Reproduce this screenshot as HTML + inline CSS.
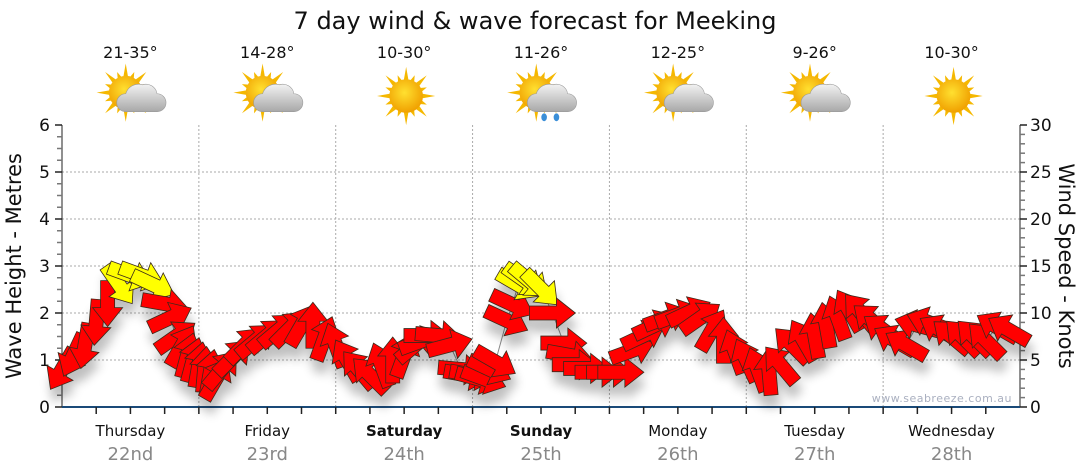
<!DOCTYPE html>
<html><head><meta charset="utf-8"><style>
html,body{margin:0;padding:0;background:#fff;}
svg{display:block;font-family:"DejaVu Sans","Liberation Sans",sans-serif;}
</style></head><body>
<svg id="chart" width="1080" height="475" viewBox="0 0 1080 475" xmlns="http://www.w3.org/2000/svg">
<defs>
<filter id="sh" x="-50%" y="-50%" width="200%" height="250%"><feGaussianBlur in="SourceAlpha" stdDeviation="5"/><feOffset dx="2" dy="12"/><feComponentTransfer><feFuncA type="linear" slope="0.25"/></feComponentTransfer><feMerge><feMergeNode/><feMergeNode in="SourceGraphic"/></feMerge></filter>
<radialGradient id="sunG" cx="45%" cy="40%" r="60%"><stop offset="0" stop-color="#ffe030"/><stop offset="1" stop-color="#f0a000"/></radialGradient>
<linearGradient id="cloudG" x1="0" y1="0" x2="0" y2="1"><stop offset="0" stop-color="#f2f2f2"/><stop offset="1" stop-color="#a8a8a8"/></linearGradient>
</defs>
<text x="535" y="29" text-anchor="middle" font-size="24" fill="#111">7 day wind &amp; wave forecast for Meeking</text>
<g id="grid"></g>
<g id="axes"></g>
<g id="header"></g>
<g id="series"></g>
<text x="1012" y="402" text-anchor="end" font-size="11" fill="#aab0c0" letter-spacing="0.5">www.seabreeze.com.au</text>
<text transform="translate(21,266) rotate(-90)" text-anchor="middle" font-size="21" fill="#111">Wave Height - Metres</text>
<text transform="translate(1059,266) rotate(90)" text-anchor="middle" font-size="21" fill="#111">Wind Speed - Knots</text>
</svg>
<script>
const days = ["Thursday","Friday","Saturday","Sunday","Monday","Tuesday","Wednesday"];
const dates = ["22nd","23rd","24th","25th","26th","27th","28th"];
const temps = ["21-35°","14-28°","10-30°","11-26°","12-25°","9-26°","10-30°"];
const icons = ["partly","partly","sun","rain","partly","partly","sun"];
const boldDays = [false,false,true,true,false,false,false];
const waveTicks = [0,1,2,3,4,5,6];
const windTicks = [0,5,10,15,20,25,30];
const hours = [0,2,4,6,8,10,12,14,16,18,19,20,21,22,23,24,25,26,27,28,30,32,34,36,38,40,42,44,46,48,50,52,54,56,58,60,62,63,64,66,68,70,71,72,73,74,75,76,78,79,80,81,82,84,86,88,89,90,92,94,96,98,100,102,104,106,108,110,112,114,116,118,120,122,124,126,128,130,132,134,136,138,140,142,144,146,148,150,152,154,156,158,160,162,164,166];
const speeds = [4,5.5,6.5,9,11,13,14,14,13,11,9.5,7.5,6.5,5.5,5,4.5,4,3.7,3,4,5.3,6.6,7.1,7.6,8.2,8.4,8.7,8.7,7.3,6.6,5,4,3.4,4.5,5,5.5,6.6,7,7.6,7.6,6.6,4,3.4,3.4,3,3,4,4.8,9.2,10.9,13,13.5,13.4,12.6,10,6.8,5.5,4.5,4.1,3.7,3.7,3.7,6,7.6,8.7,9.5,9.8,10.1,9.5,8.2,7.1,5.9,5,4,3.7,4.5,6.6,7.1,7.6,8.7,9.5,10.3,10.1,9.2,8.2,7.1,6.6,8.7,9,8.2,7.5,7.4,7.4,7.1,8.5,8.2];
const dirs = [120,115,100,95,90,55,20,20,25,10,-25,-35,-60,-75,-75,-80,-85,-80,-60,-50,-45,-45,-40,-40,-40,-45,-60,-90,-70,-110,-120,-130,-135,-110,-90,-70,-40,-20,0,5,-15,5,10,10,15,20,25,30,25,25,30,35,40,45,0,0,10,0,0,0,0,0,-20,-25,-25,-20,-20,-25,-35,-60,-90,-110,-115,-110,-95,-130,-135,-120,-100,-100,-110,-120,-130,-140,-145,-150,-150,-165,-160,-150,-140,-135,-135,-135,-150,-150];

const NS = "http://www.w3.org/2000/svg";
const X0 = 62, X1 = 1020, Y0 = 407, Y1 = 125;
const xs = h => X0 + h * (X1 - X0) / 168;
const yWave = m => Y0 - m * (Y0 - Y1) / 6;
const yWind = k => Y0 - k * (Y0 - Y1) / 30;
function mk(tag, attrs, parent, text) {
  const e = document.createElementNS(NS, tag);
  for (const k in attrs) e.setAttribute(k, attrs[k]);
  if (text !== undefined) e.textContent = text;
  parent.appendChild(e);
  return e;
}
const grid = document.getElementById("grid"), axes = document.getElementById("axes"),
      header = document.getElementById("header"), series = document.getElementById("series");

for (let m = 1; m <= 5; m++) {
  const l = mk("line", {x1: X0, x2: X1, y1: yWave(m), y2: yWave(m), stroke: "#aaa", "stroke-dasharray": "2,2"}, grid);
  
  
}
for (let d = 1; d < 7; d++) {
  const l = mk("line", {x1: xs(d*24), x2: xs(d*24), y1: Y1, y2: Y0, stroke: "#aaa", "stroke-dasharray": "2,2"}, grid);
  
  
}
let a = mk("line", {x1: X0, x2: X0, y1: Y1, y2: Y0, stroke: "#222"}, axes);


for (let q = 0; q <= 24; q++) {
  const y = yWave(q/4), len = q % 4 === 0 ? 7 : 5;
  const t = mk("line", {x1: X0 - len, x2: X0, y1: y, y2: y, stroke: q % 4 === 0 ? "#222" : "#777", "stroke-width": 1.5}, axes);
  
  
}
waveTicks.forEach(v => {
  const t = mk("text", {x: 50, y: yWave(v) + 6, "text-anchor": "end", "font-size": 17, fill: "#111"}, axes, String(v));
  
  
});
a = mk("line", {x1: X1, x2: X1, y1: Y1, y2: Y0, stroke: "#222"}, axes);


for (let k = 0; k <= 30; k++) {
  const y = yWind(k), len = k % 5 === 0 ? 7 : 5;
  const t = mk("line", {x1: X1, x2: X1 + len, y1: y, y2: y, stroke: k % 5 === 0 ? "#222" : "#777", "stroke-width": 1.5}, axes);
  
  
}
windTicks.forEach(v => {
  const t = mk("text", {x: 1030, y: yWind(v) + 6, "text-anchor": "start", "font-size": 17, fill: "#111"}, axes, String(v));
  
  
});
a = mk("line", {x1: X0, x2: X1, y1: Y0, y2: Y0, stroke: "#1a4a78", "stroke-width": 2}, axes);


for (let h = 6; h < 168; h += 6) {
  const t = mk("line", {x1: xs(h), x2: xs(h), y1: Y0, y2: Y0 + 7, stroke: "#222", "stroke-width": 1.5}, axes);
  
  
}
days.forEach((d, i) => {
  const cx = xs(i*24 + 12);
  const t = mk("text", {x: cx, y: 436, "text-anchor": "middle", "font-size": 15, fill: "#111", "font-weight": boldDays[i] ? "bold" : "normal"}, axes, d);
  
  
  const t2 = mk("text", {x: cx, y: 460, "text-anchor": "middle", "font-size": 18, fill: "#888"}, axes, dates[i]);
  
  
  const t3 = mk("text", {x: cx, y: 58, "text-anchor": "middle", "font-size": 16, fill: "#111"}, header, temps[i]);
  
  
  const g = mk("g", {transform: `translate(${cx + 2},${96}) scale(1.12)`}, header);
  
  
  const sx = icons[i] === "sun" ? 0 : -6, sy = icons[i] === "sun" ? 0 : -3;
  for (let r = 0; r < 16; r++) {
    const ang = r * Math.PI / 8, L = r % 2 ? 20 : 26;
    const p1 = [sx + Math.cos(ang) * L, sy + Math.sin(ang) * L];
    const pa = [sx + Math.cos(ang + 0.18) * 13, sy + Math.sin(ang + 0.18) * 13];
    const pb = [sx + Math.cos(ang - 0.18) * 13, sy + Math.sin(ang - 0.18) * 13];
    mk("polygon", {points: `${p1} ${pa} ${pb}`, fill: "#f5b800"}, g);
  }
  mk("circle", {cx: sx, cy: sy, r: 15, fill: "url(#sunG)"}, g);
  if (icons[i] !== "sun") {
    mk("path", {d: "M-6,14 h28 a8,8 0 0 0 0,-16 a10,10 0 0 0 -13,-8 a12,12 0 0 0 -15,8 a8,8 0 0 0 0,16 z", fill: "url(#cloudG)", stroke: "#999", "stroke-width": 0.5}, g);
  }
  if (icons[i] === "rain") {
    mk("ellipse", {cx: 1, cy: 19, rx: 2.5, ry: 3.5, fill: "#3b8fd8"}, g);
    mk("ellipse", {cx: 12, cy: 19, rx: 2.5, ry: 3.5, fill: "#3b8fd8"}, g);
  }
});
const pts = hours.map((h, i) => `${xs(h)},${yWind(speeds[i])}`).join(" ");
const pl = mk("polyline", {points: pts, fill: "none", stroke: "#888", "stroke-width": 1}, series);


const ag = mk("g", {filter: "url(#sh)"}, series);
hours.forEach((h, i) => {
  const cx = xs(h), cy = yWind(speeds[i]);
  const col = speeds[i] >= 12.5 ? "#ffff00" : "#ff0000";
  const p = mk("polygon", {
    points: "-23,-7 4,-7 4,-15 23,0 4,15 4,7 -23,7",
    transform: `translate(${cx},${cy}) rotate(${dirs[i]})`,
    fill: col, stroke: "#3a2a1a", "stroke-width": 0.8
  }, ag);
  
  
});
</script>
</body></html>
